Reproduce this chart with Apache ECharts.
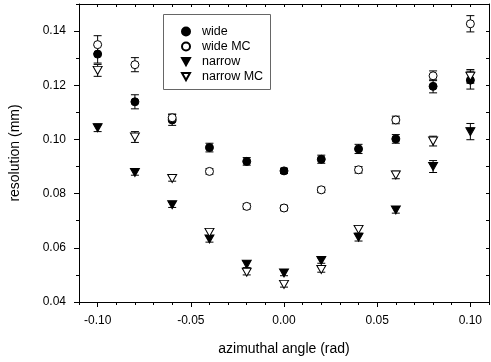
<!DOCTYPE html>
<html>
<head>
<meta charset="utf-8">
<script src="https://cdn.jsdelivr.net/npm/echarts@6/dist/echarts.min.js"></script>
<style>
  html, body { margin: 0; padding: 0; background: #fff; }
  #chart { width: 491px; height: 362px; }
</style>
</head>
<body>
<div id="chart"></div>
<script>
// data
const angles = [-0.10, -0.08, -0.06, -0.04, -0.02, 0.00, 0.02, 0.04, 0.06, 0.08, 0.10];

const wide = [0.1315, 0.1139, 0.1072, 0.0970, 0.0919, 0.0884, 0.0927, 0.0965, 0.1002, 0.1196, 0.1219];
const wideErr = [0.0033, 0.0026, 0.0020, 0.0016, 0.0014, 0.0010, 0.0015, 0.0017, 0.0016, 0.0024, 0.0033];

const wideMC = [0.1350, 0.1276, 0.1080, 0.0882, 0.0753, 0.0747, 0.0814, 0.0888, 0.1072, 0.1235, 0.1427];
const wideMCErr = [0.0033, 0.0026, 0.0014, 0.0010, 0.0010, 0.0010, 0.0010, 0.0012, 0.0014, 0.0018, 0.0030];

const narrow = [0.1043, 0.0878, 0.0759, 0.0633, 0.0539, 0.0507, 0.0553, 0.0639, 0.0740, 0.0900, 0.1029];
const narrowErr = [0.0014, 0.0010, 0.0010, 0.0012, 0.0012, 0.0010, 0.0010, 0.0014, 0.0012, 0.0022, 0.0030];

const narrowMC = [0.1255, 0.1009, 0.0856, 0.0657, 0.0510, 0.0465, 0.0520, 0.0668, 0.0869, 0.0994, 0.1233];
const narrowMCErr = [0.0022, 0.0020, 0.0010, 0.0012, 0.0010, 0.0010, 0.0010, 0.0014, 0.0014, 0.0018, 0.0025];

const xLabels = [-0.10, -0.05, 0.00, 0.05, 0.10];
const xMinor = [-0.11, -0.10, -0.09, -0.08, -0.07, -0.06, -0.05, -0.04, -0.03, -0.02, -0.01, 0.00,
                0.01, 0.02, 0.03, 0.04, 0.05, 0.06, 0.07, 0.08, 0.09, 0.10, 0.11];
const yLabels = [0.04, 0.06, 0.08, 0.10, 0.12, 0.14];
const yMinor = [0.04, 0.05, 0.06, 0.07, 0.08, 0.09, 0.10, 0.11, 0.12, 0.13, 0.14, 0.15];

const FONT = 'Liberation Sans, Arial, Helvetica, sans-serif';
const DOWN = 'path://M0,0 L10,0 L5,9 Z';

function pts(vals) {
    return angles.map((a, i) => [a, vals[i]]);
}
function errPts(vals, errs) {
    return angles.map((a, i) => [a, vals[i], errs[i]]);
}

// error bar with caps
function errorBars(vals, errs) {
    return {
        type: 'custom',
        silent: true,
        z: 1,
        data: errPts(vals, errs),
        renderItem: function(params, api) {
            let x = api.value(0);
            let y = api.value(1);
            let e = api.value(2);
            let lo = api.coord([x, y - e]);
            let hi = api.coord([x, y + e]);
            let w = 4;
            let style = { stroke: '#000', lineWidth: 1, fill: null };
            return {
                type: 'group',
                children: [
                    { type: 'line', shape: { x1: lo[0], y1: lo[1], x2: hi[0], y2: hi[1] }, style: style },
                    { type: 'line', shape: { x1: lo[0] - w, y1: lo[1], x2: lo[0] + w, y2: lo[1] }, style: style },
                    { type: 'line', shape: { x1: hi[0] - w, y1: hi[1], x2: hi[0] + w, y2: hi[1] }, style: style }
                ]
            };
        }
    };
}

function markers(name, vals, symbol, size, filled) {
    return {
        name: name,
        type: 'scatter',
        z: 3,
        symbol: symbol,
        symbolSize: size,
        data: pts(vals),
        itemStyle: {
            color: filled ? '#000' : '#fff',
            borderColor: '#000',
            borderWidth: 1,
            opacity: 1
        }
    };
}

const axisLine = { show: true, onZero: false, lineStyle: { color: '#000', width: 1 } };
const noLine = { show: false, onZero: false };

const chart = echarts.init(document.getElementById('chart'));
const option = {
    backgroundColor: '#fff',
    animation: false,
    textStyle: { fontFamily: FONT },
    grid: { left: 74, right: 2, top: 4, bottom: 60 },
    legend: {
        orient: 'vertical',
        left: 181,
        top: 25,
        padding: 0,
        itemWidth: 8,
        itemHeight: 8,
        itemGap: 2,
        textStyle: { fontFamily: FONT, fontSize: 12.5, color: '#000', padding: [0, 0, 0, 7] },
        data: ['wide', 'wide MC', 'narrow', 'narrow MC']
    },
    graphic: [{
        type: 'rect',
        shape: { x: 163.5, y: 14.5, width: 107, height: 75 },
        style: { fill: null, stroke: '#666', lineWidth: 1 },
        z: 0
    }],
    xAxis: [{
        type: 'value', min: -0.11, max: 0.11, position: 'bottom',
        axisLine: axisLine,
        axisTick: { show: true, customValues: xLabels, length: 5, lineStyle: { color: '#000' } },
        axisLabel: { customValues: xLabels, color: '#000', fontSize: 12, margin: 13,
            formatter: v => v.toFixed(2) },
        splitLine: { show: false },
        name: 'azimuthal angle (rad)', nameLocation: 'middle', nameGap: 40,
        nameTextStyle: { fontSize: 14, color: '#000', fontFamily: FONT }
    }, {
        type: 'value', min: -0.11, max: 0.11, position: 'bottom',
        axisLine: noLine,
        axisTick: { show: true, customValues: xMinor, length: 3, lineStyle: { color: '#000' } },
        axisLabel: { show: false },
        splitLine: { show: false }
    }, {
        type: 'value', min: -0.11, max: 0.11, position: 'top',
        axisLine: axisLine,
        axisTick: { show: true, inside: true, customValues: xMinor, length: 3, lineStyle: { color: '#000' } },
        axisLabel: { show: false },
        splitLine: { show: false }
    }],
    yAxis: [{
        type: 'value', min: 0.04, max: 0.15, position: 'left',
        axisLine: axisLine,
        axisTick: { show: true, customValues: yLabels, length: 5, lineStyle: { color: '#000' } },
        axisLabel: { customValues: yLabels, color: '#000', fontSize: 12, margin: 13,
            formatter: v => v.toFixed(2) },
        splitLine: { show: false },
        name: 'resolution (mm)', nameLocation: 'middle', nameGap: 57,
        nameTextStyle: { fontSize: 14, color: '#000', fontFamily: FONT }
    }, {
        type: 'value', min: 0.04, max: 0.15, position: 'left',
        axisLine: noLine,
        axisTick: { show: true, customValues: yMinor, length: 3, lineStyle: { color: '#000' } },
        axisLabel: { show: false },
        splitLine: { show: false }
    }, {
        type: 'value', min: 0.04, max: 0.15, position: 'right',
        axisLine: axisLine,
        axisTick: { show: true, inside: true, customValues: yMinor, length: 3, lineStyle: { color: '#000' } },
        axisLabel: { show: false },
        splitLine: { show: false }
    }],
    series: [
        errorBars(wide, wideErr),
        errorBars(wideMC, wideMCErr),
        errorBars(narrow, narrowErr),
        errorBars(narrowMC, narrowMCErr),
        markers('wide', wide, 'circle', 8, true),
        markers('wide MC', wideMC, 'circle', 8, false),
        markers('narrow', narrow, DOWN, [9, 8], true),
        markers('narrow MC', narrowMC, DOWN, [9, 8], false)
    ]
};
chart.setOption(option);
</script>
</body>
</html>
